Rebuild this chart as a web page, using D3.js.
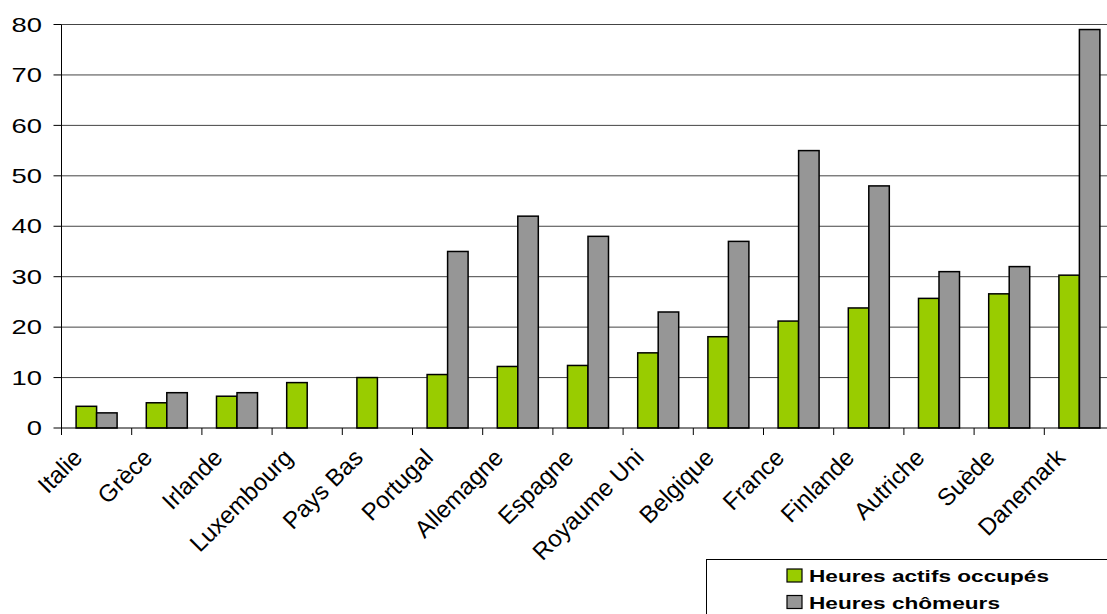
<!DOCTYPE html>
<html lang="fr">
<head>
<meta charset="UTF-8" />
<title>Heures actifs / chômeurs</title>
<script src="https://d3js.org/d3.v7.min.js"></script>
<style>
  body { margin: 0; background: #fff; }
  svg { display: block; font-family: "Liberation Sans", Arial, sans-serif; }
</style>
</head>
<body>
<svg id="chart" width="1107" height="614"></svg>
<script>
  // data
  const countries = ["Italie", "Grèce", "Irlande", "Luxembourg", "Pays Bas", "Portugal", "Allemagne",
    "Espagne", "Royaume Uni", "Belgique", "France", "Finlande", "Autriche", "Suède", "Danemark"];
  const actifs = [4.3, 5, 6.3, 9, 10, 10.6, 12.2, 12.4, 14.9, 18.1, 21.2, 23.8, 25.7, 26.6, 30.3];
  const chomeurs = [3, 7, 7, null, null, 35, 42, 38, 23, 37, 55, 48, 31, 32, 79];
  const seriesNames = ["Heures actifs occupés", "Heures chômeurs"];
  const seriesColors = ["#99cc00", "#969696"];
  const yTicks = [0, 10, 20, 30, 40, 50, 60, 70, 80];

  const svg = d3.select("#chart");
  const plotL = 61.5, plotR = 1114.5, plotT = 24.5, plotB = 428;
  const stretch = 1.37;

  const x = d3.scaleBand().domain(countries).range([plotL, plotR]);
  const xs = d3.scaleBand().domain([0, 1]).range([14.6, 55.6]);
  const y = d3.scaleLinear().domain([0, 80]).range([plotB, plotT]);

  // gridlines
  svg.append("g").selectAll("line")
    .data(yTicks.slice(1))
    .join("line")
    .attr("x1", plotL).attr("x2", plotR)
    .attr("y1", d => y(d)).attr("y2", d => y(d))
    .attr("stroke", "#444").attr("stroke-width", 1);

  // bars
  const rows = countries.map((c, i) => ({ c, vals: [actifs[i], chomeurs[i]] }));
  svg.append("g").selectAll("g")
    .data(rows)
    .join("g")
    .attr("transform", d => "translate(" + x(d.c) + ",0)")
    .selectAll("rect")
    .data(d => d.vals.map((v, k) => ({ v, k })).filter(e => e.v != null))
    .join("rect")
    .attr("x", d => xs(d.k))
    .attr("width", xs.bandwidth())
    .attr("y", d => y(d.v))
    .attr("height", d => y(0) - y(d.v))
    .attr("fill", d => seriesColors[d.k])
    .attr("stroke", "#000").attr("stroke-width", 1.5);

  // y axis
  const yAxis = svg.append("g");
  yAxis.append("line")
    .attr("x1", plotL).attr("x2", plotL).attr("y1", plotT).attr("y2", plotB)
    .attr("stroke", "#000");
  yAxis.selectAll("line.tick")
    .data(yTicks)
    .join("line").attr("class", "tick")
    .attr("x1", plotL - 8).attr("x2", plotL)
    .attr("y1", d => y(d)).attr("y2", d => y(d))
    .attr("stroke", "#000");
  yAxis.selectAll("text")
    .data(yTicks)
    .join("text")
    .attr("transform", d => "translate(42," + y(d) + ") scale(" + stretch + ",1)")
    .attr("text-anchor", "end")
    .attr("dy", "0.36em")
    .style("font-size", "20px")
    .text(d => d);

  // x axis
  const xAxis = svg.append("g");
  xAxis.append("line")
    .attr("x1", plotL).attr("x2", plotR).attr("y1", plotB).attr("y2", plotB)
    .attr("stroke", "#000");
  xAxis.selectAll("line.tick")
    .data(countries)
    .join("line").attr("class", "tick")
    .attr("x1", d => x(d)).attr("x2", d => x(d))
    .attr("y1", plotB).attr("y2", plotB + 7)
    .attr("stroke", "#000");
  xAxis.selectAll("text")
    .data(countries)
    .join("text")
    .attr("transform", d => "translate(" + (x(d) + x.bandwidth() / 2 - 13) + ",459) rotate(-45)")
    .attr("text-anchor", "end")
    .style("font-size", "24px")
    .text(d => d);

  // legend
  const legend = svg.append("g");
  legend.append("rect")
    .attr("x", 706.5).attr("y", 559.5).attr("width", 500).attr("height", 100)
    .attr("fill", "#fff").attr("stroke", "#000");
  const items = legend.selectAll("g")
    .data(seriesNames)
    .join("g")
    .attr("transform", (d, i) => "translate(787," + (582 + i * 26.5) + ")");
  items.append("rect")
    .attr("x", 0).attr("y", -13).attr("width", 15).attr("height", 13)
    .attr("fill", (d, i) => seriesColors[i])
    .attr("stroke", "#000").attr("stroke-width", 1.2);
  items.append("text")
    .attr("transform", "translate(22,0) scale(1.33,1)")
    .style("font-size", "17px")
    .style("font-weight", "bold")
    .text(d => d);
</script>
</body>
</html>
